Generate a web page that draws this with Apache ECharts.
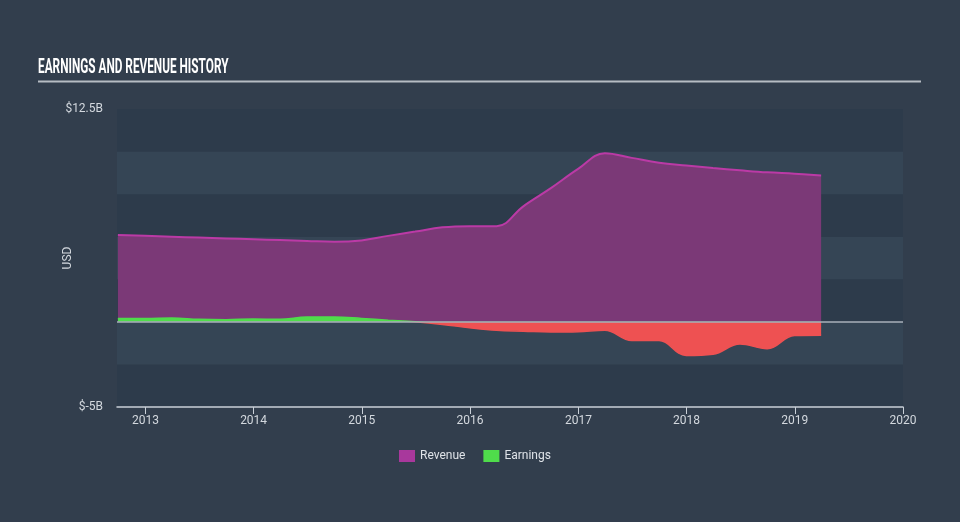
<!DOCTYPE html>
<html>
<head>
<meta charset="utf-8">
<script src="https://cdn.jsdelivr.net/npm/echarts@6/dist/echarts.min.js"></script>
<style>
html,body{margin:0;padding:0;background:#323e4d;}
#chart{width:960px;height:522px;}
</style>
</head>
<body>
<div id="chart"></div>
<script>
var dates = ['2012-09-30','2012-12-31','2013-03-31','2013-06-30','2013-09-30','2013-12-31',
  '2014-03-31','2014-06-30','2014-09-30','2014-12-31','2015-03-31','2015-06-30','2015-09-30',
  '2015-12-31','2016-03-31','2016-06-30','2016-09-30','2016-12-31','2017-03-31','2017-06-30',
  '2017-09-30','2017-12-31','2018-03-31','2018-06-30','2018-09-30','2018-12-31','2019-03-31'];
var revenue = [5.1,5.05,5.0,4.95,4.9,4.85,4.8,4.75,4.7,4.78,5.05,5.3,5.55,5.62,5.62,6.8,7.85,
  8.98,9.9,9.63,9.35,9.18,9.03,8.9,8.78,8.7,8.6];
var earnings = [0.2,0.2,0.22,0.15,0.13,0.17,0.15,0.28,0.28,0.2,0.1,0.0,-0.15,-0.35,-0.5,-0.55,
  -0.6,-0.58,-0.5,-1.1,-1.1,-1.98,-1.9,-1.3,-1.58,-0.8,-0.78];
var yTickLabels = {'-5':'$-5B','12.5':'$12.5B'};
var seriesNames = ['Revenue','Earnings'];

function pairs(vals){ return dates.map(function(d,i){ return [d, vals[i]]; }); }

var GREEN = '#4fdc4b', RED = '#ee5152';
var chart = echarts.init(document.getElementById('chart'));
var YEAR = 365*24*3600*1000;
var option = {
  backgroundColor:'#323e4d',
  animation:false,
  textStyle:{fontFamily:'Roboto, "Open Sans", sans-serif'},
  graphic:[
    {type:'text', x:38, y:58, scaleX:0.59, style:{text:'EARNINGS AND REVENUE HISTORY', fill:'#ffffff', font:'bold 20px Roboto', textVerticalAlign:'top'}},
    {type:'line', shape:{x1:38,y1:81.5,x2:921,y2:81.5}, style:{stroke:'#b6bcc3', lineWidth:2}}
  ],
  grid:{left:117, right:57, top:109, bottom:115},
  legend:{
    data:seriesNames, bottom:55, left:394, icon:'rect', itemWidth:16, itemHeight:12, itemGap:18,
    textStyle:{color:'#dfe3e8', fontSize:12}
  },
  xAxis:{
    type:'time', min:'2012-09-27', max:'2020-01-01 06:00',
    minInterval:YEAR, maxInterval:YEAR*1.01,
    axisLine:{onZero:false, lineStyle:{color:'#c9d0d8', width:1.5}},
    axisTick:{show:true, length:7, lineStyle:{color:'#c9d0d8'}},
    axisLabel:{color:'#d3d8de', fontSize:12, formatter:'{yyyy}', showMinLabel:false, showMaxLabel:true, margin:8},
    splitLine:{show:false}
  },
  yAxis:{
    type:'value', min:-5, max:12.5, interval:2.5,
    name:'USD', nameLocation:'middle', nameRotate:90, nameGap:43, nameMoveOverlap:false,
    nameTextStyle:{color:'#d3d8de', fontSize:12},
    axisLine:{show:false}, axisTick:{show:false},
    axisLabel:{color:'#d3d8de', fontSize:12, margin:14, formatter:function(v){ return yTickLabels[String(v)] || ''; }},
    splitLine:{show:false},
    splitArea:{show:true, areaStyle:{color:['#2d3b4b','#354555']}}
  },
  series:[
    {
      name:seriesNames[0], type:'line', data:pairs(revenue), smooth:0.4,
      showSymbol:false, color:'#a8389c',
      lineStyle:{color:'#bb3aa6', width:2},
      areaStyle:{color:'#7b3977', opacity:1},
      z:2,
      markLine:{silent:true, symbol:'none', label:{show:false}, lineStyle:{color:'#a9b1ba', width:1.5, type:'solid'}, data:[{yAxis:0}], z:5}
    },
    {
      name:seriesNames[1], type:'line', data:pairs(earnings), smooth:0.4,
      showSymbol:false, color:GREEN,
      lineStyle:{width:1.5, color:GREEN},
      areaStyle:{opacity:1, color:GREEN},
      z:3
    }
  ]
};
chart.setOption(option);
var y0 = chart.convertToPixel({yAxisIndex:0}, 0);
function grad(){
  return new echarts.graphic.LinearGradient(0, y0 - 1, 0, y0 + 1, [
    {offset:0, color:GREEN},{offset:0.5, color:GREEN},{offset:0.5, color:RED},{offset:1, color:RED}
  ], true);
}
chart.setOption({series:[{}, {lineStyle:{color:grad()}, areaStyle:{color:grad()}}]});
</script>
</body>
</html>
